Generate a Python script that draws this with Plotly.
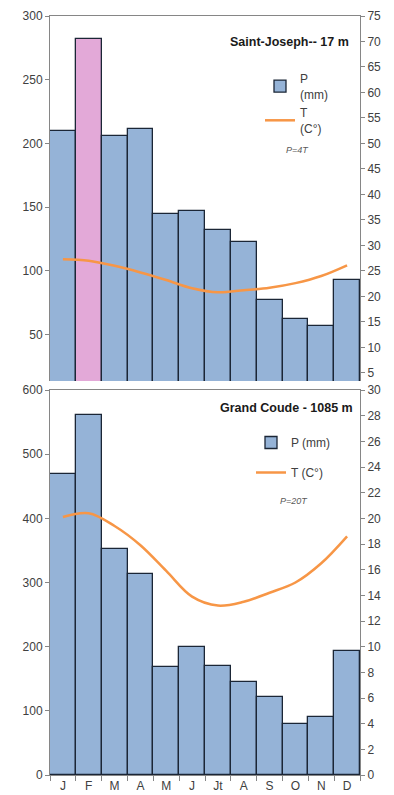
import plotly.graph_objects as go

months = ["J", "F", "M", "A", "M", "J", "Jt", "A", "S", "O", "N", "D"]
month_idx = list(range(12))

# Saint-Joseph
sj_precip = [210, 282, 206, 211, 145, 147, 132, 123, 77, 62, 57, 93]
sj_temp = [27.3, 27.0, 26.0, 24.7, 23.2, 21.6, 20.8, 21.2, 21.7, 22.6, 24.0, 26.1]
sj_colors = ["#95B3D7", "#E3A9D8"] + ["#95B3D7"] * 10

# Grand Coude
gc_precip = [469, 561, 352, 313, 168, 200, 170, 145, 122, 80, 91, 193]
gc_temp = [20.1, 20.4, 19.4, 17.9, 15.9, 13.9, 13.2, 13.5, 14.2, 15.0, 16.5, 18.6]

TXT = "#404040"
AX = "#868686"
OUTLINE = "#1b2636"
ORANGE = "#F79646"
FONT = "Liberation Sans, Arial, sans-serif"

fig = go.Figure()

fig.add_trace(go.Bar(x=month_idx, y=sj_precip, marker=dict(color=sj_colors, line=dict(color=OUTLINE, width=1.3)),
                     name="P<br>(mm)", xaxis="x", yaxis="y", legend="legend", legendgroup="p1"))
fig.add_trace(go.Scatter(x=month_idx, y=sj_temp, mode="lines", line=dict(color=ORANGE, width=2.5, shape="spline"),
                         name="T<br>(C°)", xaxis="x", yaxis="y2", legend="legend", legendgroup="t1"))
fig.add_trace(go.Bar(x=month_idx, y=gc_precip, marker=dict(color="#95B3D7", line=dict(color=OUTLINE, width=1.3)),
                     name="P (mm)", xaxis="x2", yaxis="y3", legend="legend2", legendgroup="p2"))
fig.add_trace(go.Scatter(x=month_idx, y=gc_temp, mode="lines", line=dict(color=ORANGE, width=2.5, shape="spline"),
                         name="T (C°)", xaxis="x2", yaxis="y4", legend="legend2", legendgroup="t2"))

xdom = [50 / 394, 360 / 394]
top_dom = [1 - 381 / 795, 1 - 16 / 795]
bot_dom = [1 - 775 / 795, 1 - 390 / 795]

axfont = dict(family=FONT, size=12, color=TXT)
common_y = dict(showline=True, linecolor=AX, ticks="outside", ticklen=4, tickcolor=AX, showgrid=False,
                zeroline=False, tickfont=axfont, automargin=False)

fig.update_layout(
    width=394, height=795,
    margin=dict(l=0, r=0, t=0, b=0, autoexpand=False),
    paper_bgcolor="white", plot_bgcolor="white",
    bargap=0,
    showlegend=True,
    font=dict(family=FONT, size=12, color=TXT),
    xaxis=dict(domain=xdom, anchor="y", range=[-0.5, 11.5], side="top", showline=True, linecolor=AX,
               linewidth=1, showticklabels=False, ticks="", showgrid=False, zeroline=False, automargin=False),
    yaxis=dict(domain=top_dom, anchor="x", range=[13.6, 300], tickvals=[50, 100, 150, 200, 250, 300], **common_y),
    yaxis2=dict(overlaying="y", side="right", anchor="x", range=[3.4, 75], tickvals=list(range(5, 80, 5)),
                **common_y),
    xaxis2=dict(domain=xdom, anchor="y3", range=[-0.5, 11.5], tickvals=month_idx, ticktext=months,
                showline=True, mirror=True, linecolor=AX, ticks="", showgrid=False, zeroline=False,
                tickfont=axfont, automargin=False, ticklabelstandoff=0,
                minor=dict(tickmode="linear", tick0=-0.5, dtick=1, ticks="outside", ticklen=5, tickcolor=AX,
                           showgrid=False)),
    yaxis3=dict(domain=bot_dom, anchor="x2", range=[0, 600], tickvals=[0, 100, 200, 300, 400, 500, 600],
                **common_y),
    yaxis4=dict(overlaying="y3", side="right", anchor="x2", range=[0, 30], tickvals=list(range(0, 31, 2)),
                **common_y),
    legend=dict(x=260 / 394, y=1 - 64 / 795, xanchor="left", yanchor="top", bgcolor="rgba(0,0,0,0)",
                font=dict(family=FONT, size=12, color=TXT), tracegroupgap=0, itemwidth=30),
    legend2=dict(x=251 / 394, y=1 - 428 / 795, xanchor="left", yanchor="top", bgcolor="rgba(0,0,0,0)",
                 font=dict(family=FONT, size=12, color=TXT), tracegroupgap=11, itemwidth=30),
    annotations=[
        dict(text="<b>Saint-Joseph-- 17 m</b>", xref="paper", yref="paper", x=351 / 394, y=1 - 42 / 795,
             xanchor="right", yanchor="middle", showarrow=False, font=dict(family=FONT, size=12.5, color="#1a1a1a")),
        dict(text="<b>Grand Coude - 1085 m</b>", xref="paper", yref="paper", x=355 / 394, y=1 - 408 / 795,
             xanchor="right", yanchor="middle", showarrow=False, font=dict(family=FONT, size=12.5, color="#1a1a1a")),
        dict(text="<i>P=4T</i>", xref="paper", yref="paper", x=297 / 394, y=1 - 150 / 795,
             xanchor="center", yanchor="middle", showarrow=False, font=dict(family=FONT, size=9, color="#595959")),
        dict(text="<i>P=20T</i>", xref="paper", yref="paper", x=294 / 394, y=1 - 501 / 795,
             xanchor="center", yanchor="middle", showarrow=False, font=dict(family=FONT, size=9, color="#595959")),
    ],
)

fig.write_html("out.html", config={"displayModeBar": False},
               post_script="document.body.style.margin='0';document.body.style.overflow='hidden';")
